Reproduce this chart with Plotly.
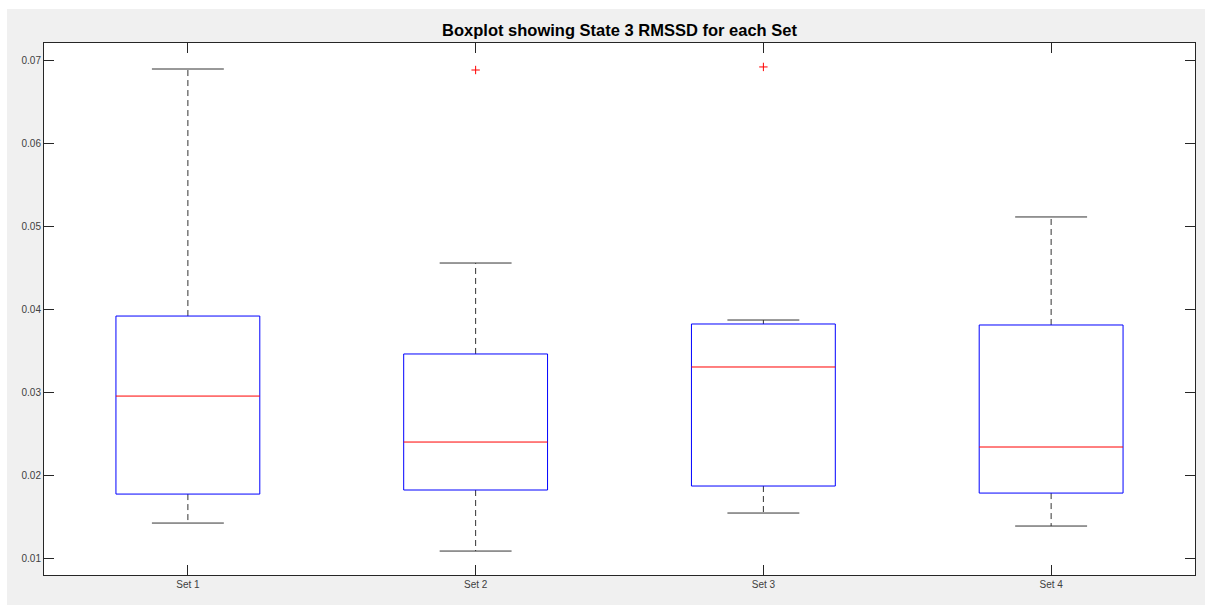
import plotly.graph_objects as go

categories = ["Set 1", "Set 2", "Set 3", "Set 4"]
upper_whisker = [0.06903, 0.04561, 0.03873, 0.05117]
q3 = [0.03921, 0.03463, 0.03825, 0.03813]
median = [0.02955, 0.02400, 0.03306, 0.02340]
q1 = [0.01772, 0.01821, 0.01869, 0.01784]
lower_whisker = [0.01422, 0.01084, 0.01543, 0.01386]
outlier_set = ["Set 2", "Set 3"]
outlier_val = [0.06891, 0.06928]

BOX_HW = 0.25
CAP_HW = 0.125
pos = {c: i + 1 for i, c in enumerate(categories)}

bx, by, mx, my, wx, wy, cx, cy = [], [], [], [], [], [], [], []
for c, lo, a, m, b, hi in zip(categories, lower_whisker, q1, median, q3, upper_whisker):
    p = pos[c]
    bx += [p - BOX_HW, p + BOX_HW, p + BOX_HW, p - BOX_HW, p - BOX_HW, None]
    by += [a, a, b, b, a, None]
    mx += [p - BOX_HW, p + BOX_HW, None]
    my += [m, m, None]
    wx += [p, p, None, p, p, None]
    wy += [b, hi, None, a, lo, None]
    cx += [p - CAP_HW, p + CAP_HW, None, p - CAP_HW, p + CAP_HW, None]
    cy += [hi, hi, None, lo, lo, None]

fig = go.Figure()
fig.add_trace(go.Scatter(x=wx, y=wy, mode="lines",
                         line=dict(color="#333333", width=1, dash="6px,4px"),
                         hoverinfo="skip"))
fig.add_trace(go.Scatter(x=cx, y=cy, mode="lines",
                         line=dict(color="#333333", width=1), hoverinfo="skip"))
fig.add_trace(go.Scatter(x=bx, y=by, mode="lines",
                         line=dict(color="#0000ff", width=1), hoverinfo="skip"))
fig.add_trace(go.Scatter(x=mx, y=my, mode="lines",
                         line=dict(color="#ff0000", width=1), hoverinfo="skip"))
fig.add_trace(go.Scatter(x=[pos[c] for c in outlier_set], y=outlier_val, mode="markers",
                         marker=dict(symbol="cross-thin", size=6,
                                     line=dict(color="#ff0000", width=1)),
                         hoverinfo="skip"))

L, R, T, B = 44, 10, 43, 30
W, H = 1205, 605
pw, ph = W - L - R, H - T - B
x0 = (7 - L) / pw
x1 = (W + 5 - L) / pw
y1 = (H - B - 9) / ph
y0 = -(B + 5) / ph
gray = "#f0f0f0"
shapes = [
    dict(type="rect", xref="paper", yref="paper", x0=x0, x1=0, y0=y0, y1=y1,
         fillcolor=gray, line=dict(width=0), layer="below"),
    dict(type="rect", xref="paper", yref="paper", x0=1, x1=x1, y0=y0, y1=y1,
         fillcolor=gray, line=dict(width=0), layer="below"),
    dict(type="rect", xref="paper", yref="paper", x0=x0, x1=x1, y0=1, y1=y1,
         fillcolor=gray, line=dict(width=0), layer="below"),
    dict(type="rect", xref="paper", yref="paper", x0=x0, x1=x1, y0=y0, y1=0,
         fillcolor=gray, line=dict(width=0), layer="below"),
]

axis_common = dict(showline=True, linecolor="#262626", linewidth=1, mirror="ticks",
                   ticks="inside", ticklen=10, tickcolor="#262626", showgrid=False,
                   zeroline=False, tickfont=dict(family="Liberation Sans, Arial", size=10,
                                                 color="#404040"))

fig.update_layout(
    width=W, height=H,
    margin=dict(l=L, r=R, t=T, b=B),
    paper_bgcolor="white", plot_bgcolor="white",
    showlegend=False,
    shapes=shapes,
    title=dict(text="<b>Boxplot showing State 3 RMSSD for each Set</b>",
               x=(L + pw / 2) / W, xanchor="center", y=1 - 30 / H, yanchor="middle",
               font=dict(family="Liberation Sans, Arial", size=16.5, color="black")),
    xaxis=dict(range=[0.5, 4.5], tickmode="array",
               tickvals=[pos[c] for c in categories], ticktext=categories,
               **axis_common),
    yaxis=dict(range=[0.00795, 0.07217], tickmode="array",
               tickvals=[0.01, 0.02, 0.03, 0.04, 0.05, 0.06, 0.07],
               ticktext=["0.01", "0.02", "0.03", "0.04", "0.05", "0.06", "0.07"],
               **axis_common),
)

fig.write_html("out.html")
